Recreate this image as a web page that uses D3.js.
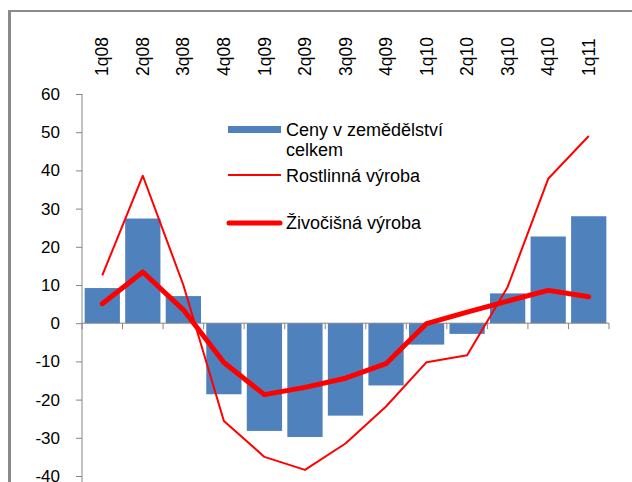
<!DOCTYPE html>
<html>
<head>
<meta charset="utf-8">
<script src="https://cdn.jsdelivr.net/npm/d3@7"></script>
<style>
  body { margin: 0; background: #fff; }
  svg { display: block; font-family: "Liberation Sans", Arial, sans-serif; }
</style>
</head>
<body>
<div id="chart"></div>
<script>
var quarters = ['1q08', '2q08', '3q08', '4q08', '1q09', '2q09', '3q09', '4q09', '1q10', '2q10', '3q10', '4q10', '1q11']

// Ceny v zemedelstvi celkem (bars)
var total = [9.2, 27.4, 7.1, -18.6, -28.2, -29.8, -24.2, -16.3, -5.6, -2.8, 7.8, 22.7, 28]
// Rostlinna vyroba (thin line)
var plant = [12.5, 38.6, 10, -25.6, -35, -38.4, -31.5, -21.8, -10.2, -8.4, 9.5, 37.8, 49]
// Zivocisna vyroba (thick line)
var animal = [5.1, 13.4, 3.5, -10.3, -18.7, -16.8, -14.4, -10.6, -0.1, 2.9, 5.8, 8.6, 6.9]

var yTicks = [60, 50, 40, 30, 20, 10, 0, -10, -20, -30, -40]

var W = 632, H = 482
var blue = '#4F81BD', red = '#FF0000', gray = '#868686'

var svg = d3.select('#chart').append('svg')
  .attr('width', W)
  .attr('height', H)

// outer chart frame (only left and top edges are visible)
svg.append('line')
  .attr('x1', 9.5).attr('x2', 9.5).attr('y1', 10).attr('y2', H)
  .attr('stroke', '#8a8a8a').attr('stroke-width', 3)
svg.append('line')
  .attr('x1', 8).attr('x2', W).attr('y1', 11).attr('y2', 11)
  .attr('stroke', '#8a8a8a').attr('stroke-width', 2)

var x = d3.scaleBand()
  .domain(quarters)
  .range([82, 609])
  .paddingInner(0.13)
  .paddingOuter(0.065)

var y = d3.scaleLinear()
  .domain([-40, 60])
  .range([476, 94])

var cx = d => x(d) + x.bandwidth() / 2

// bars
svg.append('g')
  .selectAll('rect')
  .data(total)
  .join('rect')
  .attr('x', (d, i) => x(quarters[i]))
  .attr('width', x.bandwidth())
  .attr('y', d => y(Math.max(0, d)))
  .attr('height', d => Math.abs(y(d) - y(0)))
  .attr('fill', blue)

// y axis (plain hyphen for negatives, like the original)
var yAxis = svg.append('g')
  .attr('transform', 'translate(82,0)')
  .call(d3.axisLeft(y).tickValues(yTicks).tickFormat(d => String(d))
    .tickSize(6).tickPadding(16).tickSizeOuter(0))
yAxis.select('.domain').attr('stroke', gray).attr('d', 'M0,' + y(60) + 'V' + H)
yAxis.selectAll('.tick line').attr('stroke', gray)
yAxis.selectAll('.tick text')
  .attr('fill', '#000')
  .style('font-size', '17px')
  .style('font-family', '"Liberation Sans", Arial, sans-serif')

// x base line at zero with ticks between categories
var base = svg.append('g')
base.append('line')
  .attr('x1', 82).attr('x2', 609)
  .attr('y1', y(0)).attr('y2', y(0))
  .attr('stroke', gray)
base.selectAll('line.tk')
  .data(d3.range(quarters.length + 1))
  .join('line')
  .attr('class', 'tk')
  .attr('x1', i => 82 + i * x.step())
  .attr('x2', i => 82 + i * x.step())
  .attr('y1', y(0)).attr('y2', y(0) + 6)
  .attr('stroke', gray)

// category labels on top, rotated
svg.append('g')
  .selectAll('text')
  .data(quarters)
  .join('text')
  .attr('transform', d => 'translate(' + cx(d) + ',76) rotate(-90)')
  .attr('dy', '0.35em')
  .style('font-size', '17.5px')
  .text(d => d)

var line = d3.line()
  .x((d, i) => cx(quarters[i]))
  .y(d => y(d))

svg.append('path')
  .datum(plant)
  .attr('d', line)
  .attr('fill', 'none')
  .attr('stroke', red)
  .attr('stroke-width', 2)
  .attr('stroke-linejoin', 'round')

svg.append('path')
  .datum(animal)
  .attr('d', line)
  .attr('fill', 'none')
  .attr('stroke', red)
  .attr('stroke-width', 5)
  .attr('stroke-linejoin', 'round')
  .attr('stroke-linecap', 'round')

// legend
var legend = svg.append('g')
  .style('font-size', '18px')

legend.append('rect')
  .attr('x', 228).attr('y', 126).attr('width', 53).attr('height', 7)
  .attr('fill', blue)
legend.append('text')
  .attr('x', 286).attr('y', 136)
  .text('Ceny v zemědělství')
legend.append('text')
  .attr('x', 286).attr('y', 156)
  .text('celkem')

legend.append('line')
  .attr('x1', 228).attr('x2', 281).attr('y1', 175).attr('y2', 175)
  .attr('stroke', red).attr('stroke-width', 2)
legend.append('text')
  .attr('x', 286).attr('y', 182)
  .text('Rostlinná výroba')

legend.append('line')
  .attr('x1', 229).attr('x2', 280).attr('y1', 223).attr('y2', 223)
  .attr('stroke', red).attr('stroke-width', 5).attr('stroke-linecap', 'round')
legend.append('text')
  .attr('x', 286).attr('y', 229)
  .text('Živočišná výroba')
</script>
</body>
</html>
